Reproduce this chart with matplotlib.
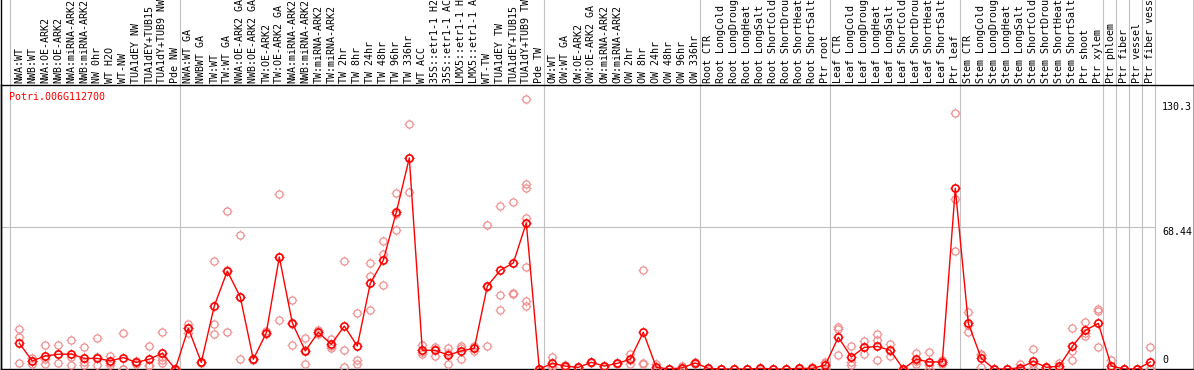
import numpy as np
import matplotlib
matplotlib.use("Agg")
import matplotlib.pyplot as plt
from matplotlib.path import Path
from matplotlib.lines import Line2D

# sample labels, grouped by experiment block
group_sizes = [13, 28, 12, 10, 10, 11, 1, 1, 1, 1]

labels = [
    "NWA:WT", "NWB:WT", "NWA:OE-ARK2", "NWB:OE-ARK2", "NWA:miRNA-ARK2",
    "NWB:miRNA-ARK2", "NW 0hr", "WT H2O", "WT-NW", "TUA1dEY NW",
    "TUA1dEY+TUB15", "TUA1dY+TUB9 NW", "Pde NW",
    "NWA:WT GA", "NWBWT GA", "TW:WT", "TW:WT GA", "NWA:OE-ARK2 GA",
    "NWB:OE-ARK2 GA", "TW:OE-ARK2", "TW:OE-ARK2 GA", "NWA:miRNA-ARK2",
    "NWB:miRNA-ARK2", "TW:miRNA-ARK2", "TW:miRNA-ARK2", "TW 2hr", "TW 8hr",
    "TW 24hr", "TW 48hr", "TW 96hr", "TW 336hr", "WT ACC",
    "35S::etr1-1 H2O", "35S::etr1-1 ACC", "LMX5::etr1-1 H2O",
    "LMX5::etr1-1 ACC", "WT-TW", "TUA1dEY TW", "TUA1dEY+TUB15",
    "TUA1dY+TUB9 TW", "Pde TW",
    "OW:WT", "OW:WT GA", "OW:OE-ARK2", "OW:OE-ARK2 GA", "OW:miRNA-ARK2",
    "OW:miRNA-ARK2", "OW 2hr", "OW 8hr", "OW 24hr", "OW 48hr", "OW 96hr",
    "OW 336hr",
    "Root CTR", "Root LongCold", "Root LongDrought", "Root LongHeat",
    "Root LongSalt", "Root ShortCold", "Root ShortDrought", "Root ShortHeat",
    "Root ShortSalt", "Ptr root",
    "Leaf CTR", "Leaf LongCold", "Leaf LongDrought", "Leaf LongHeat",
    "Leaf LongSalt", "Leaf ShortCold", "Leaf ShortDrought", "Leaf ShortHeat",
    "Leaf ShortSalt", "Ptr leaf",
    "Stem CTR", "Stem LongCold", "Stem LongDrought", "Stem LongHeat",
    "Stem LongSalt", "Stem ShortCold", "Stem ShortDrought", "Stem ShortHeat",
    "Stem ShortSalt", "Ptr shoot", "Ptr xylem",
    "Ptr phloem", "Ptr fiber", "Ptr vessel", "Ptr fiber vessel",
]

means = [
    12.4, 3.9, 6.3, 7.1, 7.2, 5.1, 5.1, 3.9, 5.5, 3.2, 4.7, 7.6, 0.0,
    19.6, 3.2, 30.4, 47.2, 34.7, 4.7, 17.4, 54.0, 22.2, 8.7, 17.7, 11.9,
    20.7, 11.1, 41.3, 52.4, 75.5, 101.7, 9.0, 9.0, 6.7, 8.7, 10.0, 39.9,
    47.6, 51.1, 70.4, 0.0,
    2.7, 1.4, 0.8, 3.2, 1.4, 2.7, 4.7, 17.7, 0.8, 0.0, 0.6, 2.9,
    0.3, 0.0, 0.0, 0.0, 0.3, 0.0, 0.0, 0.3, 0.3, 1.9,
    15.3, 5.8, 10.4, 10.9, 9.0, 0.0, 4.7, 3.4, 3.4, 87.1,
    22.0, 5.1, 0.0, 0.0, 0.6, 3.7, 0.8, 1.4, 10.9, 18.6, 22.0,
    1.4, 0.0, 0.0, 3.4,
]

replicates = [
    [19.3, 15.3, 2.7], [5.1, 4.0, 2.2], [11.6, 5.0, 2.2], [11.6, 7.0, 2.7],
    [13.8, 6.0, 1.9], [10.6, 3.5, 1.9], [14.8, 5.9, 1.9], [6.4, 2.7, 1.9],
    [17.2, 0.0, 0.0], [3.8, 2.6], [10.9, 1.9, 1.4], [17.8, 5.9, 4.3, 2.7],
    [0.0, 0.0],
    [21.9, 19.6, 17.4], [3.2, 3.0], [51.9, 21.9, 16.7], [76.2, 47.5, 18.0],
    [64.6, 34.8, 4.7], [4.7, 4.5], [18.3, 17.0], [84.4, 54.0, 23.5],
    [33.3, 21.7, 11.6], [14.8, 9.1, 2.2], [18.8, 16.7, 17.6],
    [14.5, 10.0, 11.2], [51.9, 9.0, 1.1], [27.2, 4.2, 2.2],
    [50.9, 45.0, 28.3], [61.7, 55.4, 40.3], [84.7, 74.9, 66.9],
    [118.0, 101.6, 85.5], [11.6, 8.3, 7.1], [10.8, 9.8, 6.4],
    [10.0, 7.9, 2.2], [11.2, 10.2, 4.7], [11.0, 10.2, 8.8],
    [69.4, 39.4, 10.9], [78.6, 35.5, 28.3], [80.5, 36.5, 36.3],
    [130.3, 89.4, 87.1, 73.0, 49.0, 32.9, 30.5], [0.0, 0.0],
    [5.6, 1.4, 1.1], [1.8, 1.0], [1.2, 0.4], [3.5, 2.9], [1.6, 1.2],
    [3.0, 2.4], [7.4, 4.5, 2.2], [47.6, 2.9, 2.6], [2.6, 0.0, 0.0],
    [0.0, 0.0], [1.4, 0.3, 0.1], [3.5, 2.3],
    [0.5, 0.1], [0.0, 0.0], [0.0, 0.0], [0.0, 0.0], [0.6, 0.1], [0.0, 0.0],
    [0.0, 0.0], [0.5, 0.1], [1.1, 0.0], [3.5, 2.7, 0.0],
    [20.1, 19.1, 6.6], [11.1, 3.5, 1.9], [13.5, 10.5, 7.2],
    [16.7, 14.0, 4.2], [12.2, 8.5, 6.3], [0.0, 0.0], [7.9, 4.0, 2.2],
    [8.2, 1.9, 0.1], [4.2, 3.4, 2.6], [123.3, 82.0, 56.9],
    [27.3, 21.0, 17.7], [7.4, 6.8, 1.1], [0.0, 0.0], [0.0, 0.0],
    [2.2, 0.0, 0.0], [9.5, 2.2, 0.0], [1.1, 0.5], [2.7, 1.0, 0.5],
    [19.8, 8.8, 4.2], [22.5, 17.2, 16.1], [29.1, 27.8, 10.4],
    [4.3, 0.0, 0.0], [0.0, 0.0], [0.0, 0.0], [10.4, 0.0, 0.0],
]

gene = "Potri.006G112700"
y_max = 130.3
y_mid = 68.44

W, H = 1194, 370
fig = plt.figure(figsize=(W / 100, H / 100), dpi=100)
ax = fig.add_axes([0.5 / W, 1 / H, 1193 / W, 284 / H])

# four short ticks outside each circle, like the original plotting tool
ticks = Path([(0, 1), (0, 1.4), (0, -1), (0, -1.4), (1, 0), (1.4, 0), (-1, 0), (-1.4, 0)],
             [Path.MOVETO, Path.LINETO] * 4)
r_pt = 2.6  # circle radius in points
ms_o = 2 * r_pt
ms_t = 2 * r_pt * 1.4

x = np.arange(len(labels))

# replicates
rx, ry = [], []
for i, reps in enumerate(replicates):
    for v in reps:
        rx.append(i)
        ry.append(v)
rep_col = "#f08c8c"
ax.plot(rx, ry, linestyle="none", marker="o", markersize=ms_o, mfc="none",
        mec=rep_col, mew=0.9, zorder=3)
ax.plot(rx, ry, linestyle="none", marker=ticks, markersize=ms_t,
        mec=rep_col, mew=0.7, zorder=3)

# mean line
ax.plot(x, means, color="red", lw=1.0, marker="o", markersize=ms_o, mfc="none",
        mec="red", mew=1.2, zorder=4)
ax.plot(x, means, linestyle="none", marker=ticks, markersize=ms_t,
        mec="red", mew=0.8, zorder=4)

px = 13.0  # pixels per category
x_left = (0.5 - 19.3) / px
x_right = (1193.5 - 19.3) / px
ax.set_xlim(x_left, x_right)
ax.set_ylim(0, 2 * y_mid)
ax.set_xticks([])
ax.set_yticks([])
for s in ax.spines.values():
    s.set_color("black")
    s.set_linewidth(1.0)

# group separators, running up through the label strip
bounds = [-0.7]
acc = 0
for g in group_sizes:
    acc += g
    bounds.append(acc - 1 + 0.36)
top_frac = 1 + 85 / 284
for b in bounds:
    ax.plot([b, b], [0, top_frac], color="#c0c0c0", lw=0.8,
            transform=ax.get_xaxis_transform(), clip_on=False, zorder=1)

ax.plot([x_left, bounds[-1]], [y_mid, y_mid], color="#c0c0c0", lw=0.8, zorder=1)

mono = "DejaVu Sans Mono"
fs = 7.2
for i, lab in enumerate(labels):
    ax.text(i, 1 + 2 / 284, lab, rotation=90, ha="center", va="bottom",
            fontsize=fs, family=mono, transform=ax.get_xaxis_transform(),
            clip_on=False)

ax.text(9 / 1193, 0.958, gene, color="red", fontsize=fs, family=mono,
        ha="left", va="center", transform=ax.transAxes)

lx = (1162 - 0.5) / 1193
ax.text(lx, y_max - 1.5, "%.1f" % y_max, fontsize=fs, family=mono, ha="left", va="top",
        transform=ax.get_yaxis_transform(), clip_on=False)
ax.text(lx, y_mid, "%.2f" % y_mid, fontsize=fs, family=mono, ha="left", va="top",
        transform=ax.get_yaxis_transform(), clip_on=False)
ax.text(lx, 2.0, "0", fontsize=fs, family=mono, ha="left", va="bottom",
        transform=ax.get_yaxis_transform(), clip_on=False)

# outer frame of the label strip
fig.add_artist(Line2D([0.5 / W, 0.5 / W], [0, 1], color="black", lw=1.0))
fig.add_artist(Line2D([1193.5 / W, 1193.5 / W], [0, 1], color="black", lw=1.0))

fig.savefig("out.png", dpi=100)
